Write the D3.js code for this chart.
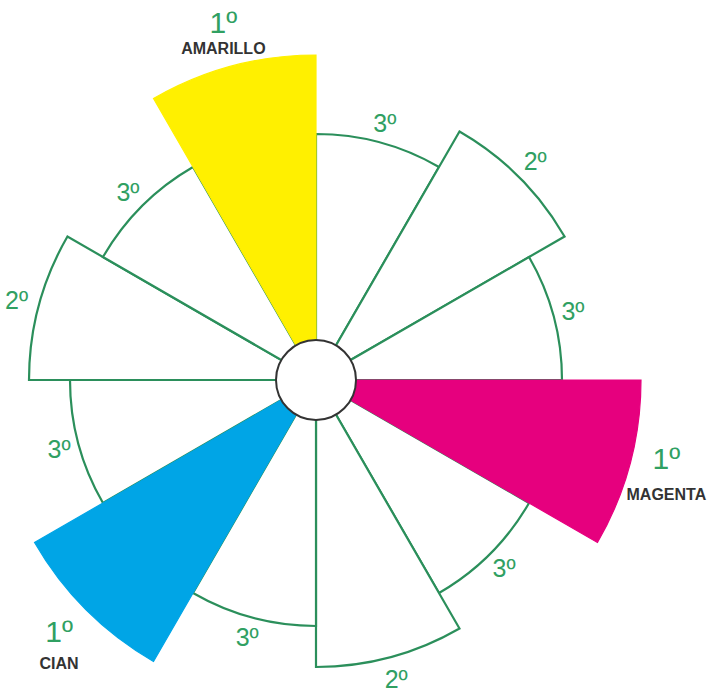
<!DOCTYPE html>
<html>
<head>
<meta charset="utf-8">
<script src="https://cdn.jsdelivr.net/npm/d3@7"></script>
<style>
  body { margin: 0; background: #fff; }
  text { font-family: "Liberation Sans", Arial, sans-serif; }
</style>
</head>
<body>
<div id="viz"></div>
<script>
'use strict';

// sectors clockwise, starting at 11 o'clock (yellow)
var levels = [1, 3, 2, 3, 1, 3, 2, 3, 1, 3, 2, 3];
var primaryNames = ['AMARILLO', 'MAGENTA', 'CIAN'];
var primaryColors = ['#fff000', '#e6007e', '#00a5e6'];
var levelLabels = ['1º', '2º', '3º'];

var width = 710, height = 693;
var cx = 316, cy = 380;
var green = '#2b8f5b', textGreen = '#30a062';

var svg = d3.select('#viz')
    .append('svg')
    .attr('width', width)
    .attr('height', height);

var g = svg.append('g').attr('transform', 'translate(' + cx + ',' + cy + ')');

var angle = d3.scaleLinear()
    .domain([0, levels.length])
    .range([-Math.PI / 6, 2 * Math.PI - Math.PI / 6]);

var radius = d3.scaleOrdinal()
    .domain([1, 2, 3])
    .range([325, 287, 246]);

var labelRadius = d3.scaleOrdinal()
    .domain([1, 2, 3])
    .range([364, 310, 266]);

var sectors = levels.map(function(l, i) {
    return { level: l, index: i, start: angle(i), end: angle(i + 1) };
});

var arc = d3.arc()
    .innerRadius(0)
    .outerRadius(function(d) { return radius(d.level); })
    .startAngle(function(d) { return d.start; })
    .endAngle(function(d) { return d.end; });

// white sectors (2º and 3º) with green outline
g.selectAll('path.sec')
    .data(sectors.filter(function(d) { return d.level != 1; }))
    .enter().append('path')
    .attr('class', 'sec')
    .attr('d', arc)
    .style('fill', 'white')
    .style('stroke', green)
    .style('stroke-width', 2.2)
    .style('stroke-linejoin', 'miter');

// primary sectors on top, stroked in own colour to hide the green edge
var prim = sectors.filter(function(d) { return d.level == 1; });
g.selectAll('path.prim')
    .data(prim)
    .enter().append('path')
    .attr('class', 'prim')
    .attr('d', arc)
    .style('fill', function(d, i) { return primaryColors[i]; })
    .style('stroke', function(d, i) { return primaryColors[i]; })
    .style('stroke-width', 1.2);

// centre circle
g.append('circle')
    .attr('r', 40)
    .style('fill', 'white')
    .style('stroke', '#333')
    .style('stroke-width', 2);

// 2º / 3º labels
g.selectAll('text.lev')
    .data(sectors.filter(function(d) { return d.level != 1; }))
    .enter().append('text')
    .attr('class', 'lev')
    .attr('transform', function(d) {
        var p = d3.pointRadial((d.start + d.end) / 2, labelRadius(d.level));
        return 'translate(' + p[0] + ',' + p[1] + ')';
    })
    .attr('text-anchor', 'middle')
    .attr('dy', '0.36em')
    .style('font-size', '25px')
    .style('fill', textGreen)
    .text(function(d) { return levelLabels[d.level - 1]; });

// primary labels
var shift = [0.5, -2.4, 0.7]; // degrees, small nudges to sit like the original
var rShift = [6, -5, -5];
var nameGap = [26, 36, 33];
var pl = g.selectAll('g.plab')
    .data(prim)
    .enter().append('g')
    .attr('class', 'plab')
    .attr('transform', function(d, i) {
        var a = (d.start + d.end) / 2 + shift[i] * Math.PI / 180;
        var p = d3.pointRadial(a, labelRadius(1) + rShift[i]);
        return 'translate(' + p[0] + ',' + p[1] + ')';
    });

pl.append('text')
    .attr('text-anchor', 'middle')
    .attr('dy', '0.36em')
    .style('font-size', '30px')
    .style('fill', textGreen)
    .text(levelLabels[0]);

pl.append('text')
    .attr('text-anchor', 'middle')
    .attr('y', function(d, i) { return nameGap[i]; })
    .attr('dy', '0.36em')
    .style('font-size', '16px')
    .style('font-weight', 'bold')
    .style('fill', '#333')
    .text(function(d, i) { return primaryNames[i]; });
</script>
</body>
</html>
